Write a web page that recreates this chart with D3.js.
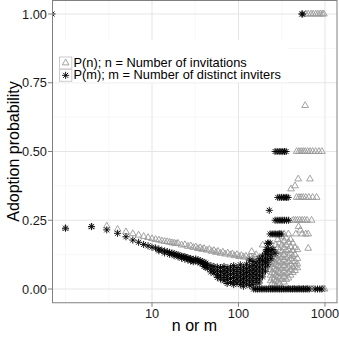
<!DOCTYPE html>
<html>
<head>
<meta charset="utf-8">
<script src="https://cdn.jsdelivr.net/npm/d3@7"></script>
<style>
  body { margin: 0; background: #fff; }
  text { font-family: "Liberation Sans", Arial, Helvetica, sans-serif; }
</style>
</head>
<body>
<div id="chart"></div>
<script>
// ---- data (x = n or m, y = adoption probability) ----

// P(n): n = number of invitations (open triangles)
const invBand = [
  [1,0.221],[2,0.226],[3,0.229],[4,0.217],[5,0.208],[6,0.201],[7,0.196],[8,0.191],[9,0.187],
  [10,0.183],[11,0.180],[12,0.178],[13,0.175],[14,0.173],[15,0.172],[16,0.170],[17,0.168],
  [18,0.167],[19,0.165],[20,0.166],[22,0.160],[24,0.161],[26,0.155],[28,0.157],[30,0.151],
  [32,0.153],[34,0.147],[36,0.150],[38,0.144],[40,0.147],[43,0.141],[46,0.144],[49,0.137],
  [52,0.140],[55,0.133],[58,0.137],[62,0.130],[66,0.134],[70,0.127],[75,0.131],[80,0.124],
  [85,0.128],[90,0.121],[96,0.125],[102,0.118],[108,0.122],[115,0.116],[122,0.119],[130,0.113],
  [138,0.117],[146,0.111],[155,0.115],[165,0.109],[175,0.113],[185,0.107],[196,0.111],
  [208,0.105],[220,0.109],[232,0.104]
];
const invScatter = [
  [142,0.136],[160,0.125],[190,0.160],[200,0.130],[215,0.145],[225,0.125],
  [235,0.090],[235,0.070],[235,0.050],[235,0.030],
  [245,0.120],[245,0.100],[245,0.080],[245,0.060],[245,0.040],[245,0.020],
  [258,0.140],[258,0.115],[258,0.095],[258,0.075],[258,0.055],[258,0.035],[258,0.015],
  [270,0.160],[270,0.130],[270,0.110],[270,0.090],[270,0.070],[270,0.050],[270,0.030],[270,0.010],
  [285,0.180],[285,0.150],[285,0.125],[285,0.105],[285,0.085],[285,0.065],[285,0.045],[285,0.025],
  [300,0.200],[300,0.167],[300,0.140],[300,0.120],[300,0.100],[300,0.080],[300,0.060],[300,0.040],[300,0.020],
  [318,0.190],[318,0.160],[318,0.135],[318,0.115],[318,0.095],[318,0.075],[318,0.055],[318,0.035],
  [336,0.200],[336,0.175],[336,0.150],[336,0.125],[336,0.105],[336,0.085],[336,0.065],[336,0.045],[336,0.025],
  [356,0.185],[356,0.160],[356,0.140],[356,0.115],[356,0.095],[356,0.075],[356,0.055],[356,0.035],
  [378,0.200],[378,0.170],[378,0.143],[378,0.120],[378,0.100],[378,0.080],[378,0.060],[378,0.040],
  [400,0.180],[400,0.154],[400,0.130],[400,0.110],[400,0.090],[400,0.070],[400,0.050],
  [425,0.167],[425,0.140],[425,0.120],[425,0.100],[425,0.080],[425,0.060],
  [450,0.150],[450,0.125],[450,0.100],[450,0.083],[450,0.067],
  [480,0.143],[480,0.111],[480,0.091],[480,0.077]
];
const invRows = [
  [600,1],[640,1],[690,1],[730,1],[780,1],[830,1],[880,1],[930,1],[970,1],
  [590,0.667],
  [470,0.5],[500,0.5],[530,0.5],[560,0.5],[590,0.5],[630,0.5],[670,0.5],[720,0.5],[780,0.5],[850,0.5],[920,0.5],
  [490,0.4],[670,0.4],[450,0.375],[405,0.364],
  [470,0.333],[500,0.333],[530,0.333],[560,0.333],[600,0.333],[650,0.333],[720,0.333],[800,0.333],
  [430,0.25],[455,0.25],[480,0.25],[510,0.25],[545,0.25],[580,0.25],[620,0.25],[700,0.25],
  [495,0.227],[520,0.214],[460,0.2],[545,0.2],[600,0.2],[640,0.2],[640,0.148],
  [260,0],[320,0],[380,0],[440,0],[500,0],[560,0],[620,0],[690,0],[730,0],[950,0],[990,0]
];

// P(m): m = number of distinct inviters (asterisks); m = 0 sits on the left edge
const distBand = [
  [0,1],[1,0.221],[2,0.227],[3,0.215],[4,0.2025],[5,0.190],[6,0.178],[7,0.170],[8,0.162],[9,0.157],
  [10,0.152],[11,0.149],[12,0.145],[12,0.139],[13,0.141],[14,0.138],[14,0.131],[15,0.136],
  [16,0.133],[16,0.126],[17,0.131],[18,0.128],[18,0.121],[19,0.126],[20,0.124],[20,0.117],
  [21,0.121],[22,0.119],[22,0.112],[23,0.117],[24,0.118],[24,0.109],[25,0.113],[26,0.114],
  [26,0.106],[27,0.109],[28,0.111],[28,0.102],[29,0.106],[30,0.108],[30,0.099],[32,0.102],
  [32,0.109],[34,0.099],[34,0.106],[36,0.095],[36,0.103],[38,0.092],[38,0.100],[40,0.089],
  [40,0.097],[40,0.082],[42,0.086],[42,0.094],[42,0.079]
];
const distSpread = [
  [44,0.088],[44,0.076],[48,0.085],[48,0.072],[48,0.062],[52,0.082],[52,0.070],[52,0.058],
  [57,0.080],[57,0.066],[57,0.053],[57,0.042],[62,0.078],[62,0.064],[62,0.050],[62,0.036],
  [68,0.082],[68,0.068],[68,0.055],[68,0.042],[68,0.030],
  [74,0.076],[74,0.062],[74,0.048],[74,0.034],[74,0.020],
  [81,0.080],[81,0.066],[81,0.052],[81,0.038],[81,0.024],
  [88,0.085],[88,0.070],[88,0.056],[88,0.042],[88,0.028],[88,0.016],
  [96,0.078],[96,0.064],[96,0.050],[96,0.036],[96,0.022],
  [105,0.088],[105,0.072],[105,0.058],[105,0.044],[105,0.030],[105,0.016],
  [114,0.080],[114,0.066],[114,0.052],[114,0.038],[114,0.024],[114,0.010],
  [124,0.090],[124,0.074],[124,0.060],[124,0.046],[124,0.032],[124,0.018],
  [135,0.105],[135,0.083],[135,0.068],[135,0.054],[135,0.040],[135,0.026],[135,0.012],
  [147,0.100],[147,0.086],[147,0.072],[147,0.058],[147,0.044],[147,0.030],[147,0.016],
  [160,0.095],[160,0.080],[160,0.066],[160,0.052],[160,0.038],[160,0.024],
  [174,0.110],[174,0.095],[174,0.080],[174,0.065],[174,0.050],[174,0.036],[174,0.022],
  [189,0.120],[189,0.104],[189,0.088],[189,0.072],[189,0.058],[189,0.044],
  [205,0.130],[205,0.112],[205,0.096],[205,0.080],[205,0.065],
  [218,0.166],[218,0.143],[218,0.125],[218,0.105],[218,0.088],
  [236,0.125],[238,0.110],[250,0.143],[265,0.130]
];
const distRows = [
  [540,1],[552,1],
  [265,0.5],[280,0.5],[295,0.5],[310,0.5],[325,0.5],[340,0.5],[355,0.5],
  [285,0.333],[300,0.333],[315,0.333],[330,0.333],[345,0.333],[360,0.333],[375,0.333],
  [265,0.25],[280,0.25],[295,0.25],[310,0.25],[325,0.25],[340,0.25],[360,0.25],[380,0.25],
  [227,0.286],
  [232,0.2],[245,0.2],[258,0.2],[270,0.2],[285,0.2],[300,0.2],[313,0.2],
  [220,0.167],[232,0.167],[210,0.143],[222,0.143],[240,0.143]
];
const distZero = [
  150,158,166,174,183,192,202,212,223,234,246,258,271,285,299,314,330,346,364,382,
  401,421,442,464,487,512,538,565,593,622,655,770,820,870,920
];

const xMajor = [10, 100, 1000];
const xMinor = [1, 3.162, 31.62, 316.2];
const yMajor = [0, 0.25, 0.5, 0.75, 1];
const yMinor = [0.125, 0.375, 0.625, 0.875];
const legendLabels = ["P(n); n = Number of invitations", "P(m); m = Number of distinct inviters"];

const pInvitations = invBand.concat(invScatter, invRows);
const pInviters = distBand.concat(distSpread, distRows, distZero.map(m => [m, 0]));

// ---- layout ----
const width = 339, height = 341;
const panel = { left: 52, right: 337, top: 0.25, bottom: 302.75 };

const x = d3.scaleLog().domain([0.698, 1377]).range([panel.left, panel.right]);
const y = d3.scaleLinear().domain([-0.05, 1.05]).range([panel.bottom, panel.top]);
const px = v => v <= 0 ? panel.left : x(v);   // log(0) = -Inf goes to the panel edge

const svg = d3.select("#chart").append("svg")
  .attr("width", width)
  .attr("height", height);

svg.append("defs").append("clipPath").attr("id", "clip")
  .append("rect")
  .attr("x", panel.left).attr("y", panel.top)
  .attr("width", panel.right - panel.left).attr("height", panel.bottom - panel.top);

// grid
const grid = svg.append("g");
grid.selectAll(".xminor").data(xMinor).join("line")
  .attr("x1", d => x(d)).attr("x2", d => x(d))
  .attr("y1", panel.top).attr("y2", panel.bottom)
  .attr("stroke", "#f5f5f5").attr("stroke-width", 0.8);
grid.selectAll(".yminor").data(yMinor).join("line")
  .attr("y1", d => y(d)).attr("y2", d => y(d))
  .attr("x1", panel.left).attr("x2", panel.right)
  .attr("stroke", "#f5f5f5").attr("stroke-width", 0.8);
grid.selectAll(".xmajor").data(xMajor).join("line")
  .attr("x1", d => x(d)).attr("x2", d => x(d))
  .attr("y1", panel.top).attr("y2", panel.bottom)
  .attr("stroke", "#e5e5e5").attr("stroke-width", 1);
grid.selectAll(".ymajor").data(yMajor).join("line")
  .attr("y1", d => y(d)).attr("y2", d => y(d))
  .attr("x1", panel.left).attr("x2", panel.right)
  .attr("stroke", "#e5e5e5").attr("stroke-width", 1);

// symbols (R pch 2 and pch 8)
const R = 2.5;
const triPath = `M0,${-1.555 * R}L${1.347 * R},${0.778 * R}L${-1.347 * R},${0.778 * R}Z`;
const s2 = Math.SQRT2 * R;
const starPath = `M${-s2},0H${s2}M0,${-s2}V${s2}M${-R},${-R}L${R},${R}M${-R},${R}L${R},${-R}`;

const pts = svg.append("g").attr("clip-path", "url(#clip)");
pts.selectAll(".tri").data(pInvitations).join("path")
  .attr("class", "tri")
  .attr("transform", d => `translate(${px(d[0])},${y(d[1])})`)
  .attr("d", triPath)
  .attr("fill", "none")
  .attr("stroke", "#999999")
  .attr("stroke-width", 0.9);
pts.selectAll(".star").data(pInviters).join("path")
  .attr("class", "star")
  .attr("transform", d => `translate(${px(d[0])},${y(d[1])})`)
  .attr("d", starPath)
  .attr("fill", "none")
  .attr("stroke", "#000")
  .attr("stroke-width", 0.9);

// legend (inside panel, top-left)
const legend = svg.append("g");
legend.append("rect")
  .attr("x", 54).attr("y", 40).attr("width", 234).attr("height", 42.5)
  .attr("fill", "#fff");
const keys = legend.selectAll(".key").data(legendLabels).join("g")
  .attr("transform", (d, i) => `translate(59,${56.5 + i * 12.4})`);
keys.append("rect")
  .attr("x", 0.5).attr("y", 0.5).attr("width", 12.3).attr("height", 11.9)
  .attr("fill", "#fff").attr("stroke", "#cccccc").attr("stroke-width", 1);
keys.append("path")
  .attr("transform", "translate(6.65,6.45)")
  .attr("d", (d, i) => i === 0 ? triPath : starPath)
  .attr("fill", "none")
  .attr("stroke", (d, i) => i === 0 ? "#999999" : "#000")
  .attr("stroke-width", 0.9);
keys.append("text")
  .attr("x", 14.5).attr("y", 10)
  .attr("font-size", "12.8px")
  .attr("fill", "#000")
  .text(d => d);

// panel border
svg.append("rect")
  .attr("x", panel.left + 0.5).attr("y", 0.5)
  .attr("width", panel.right - panel.left - 0.5).attr("height", panel.bottom - 0.5)
  .attr("fill", "none").attr("stroke", "#808080").attr("stroke-width", 1);

// axes
const xAxis = svg.append("g");
xAxis.selectAll("line").data(xMajor).join("line")
  .attr("x1", d => x(d)).attr("x2", d => x(d))
  .attr("y1", panel.bottom).attr("y2", panel.bottom + 4)
  .attr("stroke", "#808080");
xAxis.selectAll("text").data(xMajor).join("text")
  .attr("x", d => x(d)).attr("y", 318)
  .attr("text-anchor", "middle")
  .attr("font-size", "12.8px").attr("fill", "#1a1a1a")
  .text(d => d);

const yAxis = svg.append("g");
yAxis.selectAll("line").data(yMajor).join("line")
  .attr("y1", d => y(d)).attr("y2", d => y(d))
  .attr("x1", panel.left - 4).attr("x2", panel.left)
  .attr("stroke", "#808080");
yAxis.selectAll("text").data(yMajor).join("text")
  .attr("x", 47).attr("y", d => y(d) + 4.6)
  .attr("text-anchor", "end")
  .attr("font-size", "12.8px").attr("fill", "#1a1a1a")
  .text(d3.format(".2f"));

svg.append("text")
  .attr("x", (panel.left + panel.right) / 2).attr("y", 331)
  .attr("text-anchor", "middle")
  .attr("font-size", "16px")
  .text("n or m");
svg.append("text")
  .attr("transform", `translate(19,${(panel.top + panel.bottom) / 2}) rotate(-90)`)
  .attr("text-anchor", "middle")
  .attr("font-size", "16px")
  .text("Adoption probability");
</script>
</body>
</html>
